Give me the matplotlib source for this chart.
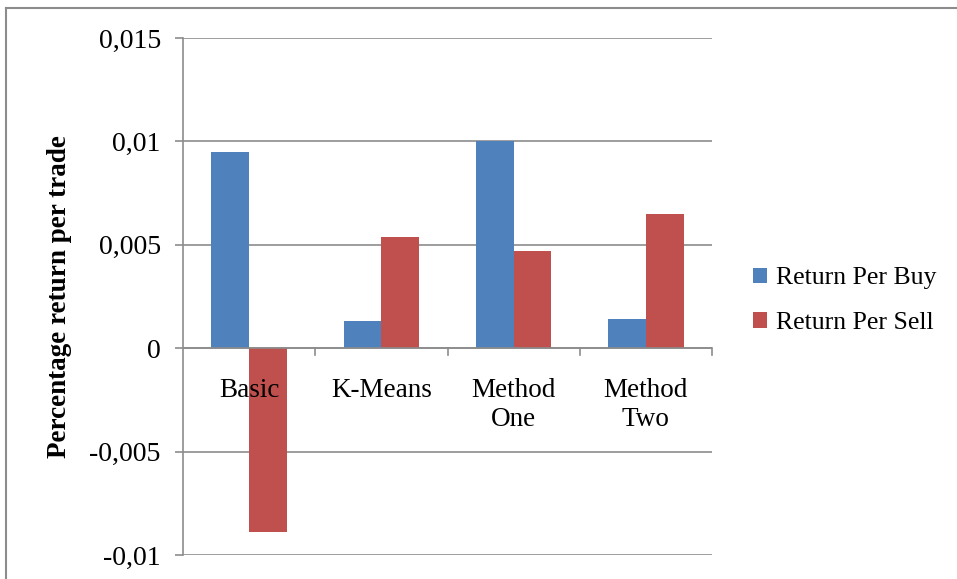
import matplotlib.pyplot as plt
import numpy as np
from matplotlib.lines import Line2D
from matplotlib.ticker import FuncFormatter

categories = ['Basic', 'K-Means', 'Method\nOne', 'Method\nTwo']
return_per_buy = [0.0095, 0.0013, 0.0100, 0.0014]
return_per_sell = [-0.0089, 0.0054, 0.0047, 0.0065]
y_ticks = [-0.01, -0.005, 0, 0.005, 0.01, 0.015]

BLUE = '#4f81bd'
RED = '#c0504d'
GRID = '#8c8c8c'

plt.rcParams['font.family'] = ['Liberation Serif', 'DejaVu Serif']


def comma_fmt(v, pos):
    if abs(v) < 1e-12:
        return '0'
    return ('%g' % v).replace('.', ',')


def main():
    fig = plt.figure(figsize=(9.57, 5.79), dpi=100)
    ax = fig.add_axes([183 / 957, 1 - 555 / 579, (712 - 183) / 957, (555 - 38) / 579])

    # outer chart border (top and left visible)
    fig.add_artist(Line2D([6 / 957, 6 / 957], [0, 1 - 8 / 579], transform=fig.transFigure,
                          color='#8c8c8c', lw=1.5))
    fig.add_artist(Line2D([6 / 957, 1], [1 - 8 / 579, 1 - 8 / 579], transform=fig.transFigure,
                          color='#8c8c8c', lw=1.5))

    x = np.arange(len(categories))
    w = 1 / 3.5
    ax.bar(x - w / 2, return_per_buy, w, color=BLUE, label='Return Per Buy', zorder=3)
    ax.bar(x + w / 2, return_per_sell, w, color=RED, label='Return Per Sell', zorder=3)

    ax.set_xlim(-0.5, len(categories) - 0.5)
    ax.set_ylim(-0.01, 0.015)
    ax.set_yticks(y_ticks)
    ax.yaxis.set_major_formatter(FuncFormatter(comma_fmt))
    ax.yaxis.grid(True, color=GRID, lw=1.2, zorder=0)

    for s in ['top', 'right', 'bottom']:
        ax.spines[s].set_visible(False)
    ax.spines['left'].set_color(GRID)
    ax.spines['left'].set_linewidth(1.2)

    # category axis sits at zero with ticks between groups
    ax.axhline(0, color=GRID, lw=1.2, zorder=4)
    ax.set_xticks([])
    for b in np.arange(0.5, len(categories), 1):
        ax.plot([b, b], [0, -0.00035], color=GRID, lw=1.2, clip_on=False, zorder=4)
    for i, c in enumerate(categories):
        ax.text(i, -0.00145, c, ha='center', va='top', fontsize=19.5, linespacing=1.22, zorder=5)

    ax.tick_params(axis='y', length=6, width=1.2, color=GRID, labelsize=20, pad=10)
    ax.set_ylabel('Percentage return per trade', fontsize=19.5, fontweight='bold')
    ax.yaxis.set_label_coords(-0.21, 0.5)

    ax.legend(loc='center left', bbox_to_anchor=(1.033, 0.492), frameon=False, fontsize=18.5,
              handlelength=0.55, handleheight=0.55, handletextpad=0.35, labelspacing=0.88)

    fig.savefig('out.png', dpi=100)


if __name__ == "__main__":
    main()
